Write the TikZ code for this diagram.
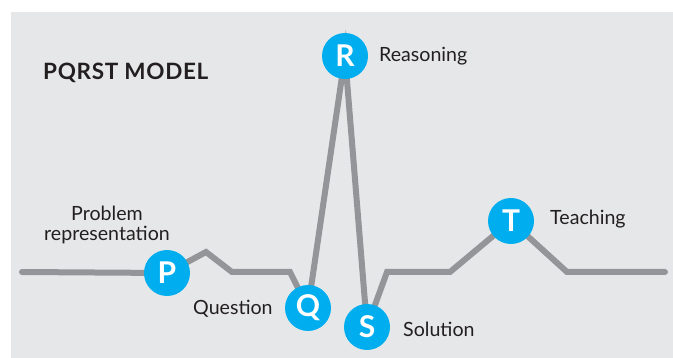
\documentclass[tikz,border=0pt]{standalone}
\usepackage{fontspec}
\setmainfont{Lato}
\definecolor{bgc}{HTML}{E6E7E8}
\definecolor{wave}{HTML}{939598}
\definecolor{dot}{HTML}{00AEEF}
\definecolor{ink}{HTML}{231F20}
\pgfdeclarelayer{bglayer}
\pgfdeclarelayer{linelayer}
\pgfsetlayers{bglayer,linelayer,main}
\tikzset{
  stage/.style={circle, fill=dot, minimum size=46pt, inner sep=0pt, text=white,
    font=\fontsize{30}{30}\selectfont\bfseries},
  lbl/.style={text=ink, font=\fontsize{19.6}{20}\selectfont, inner sep=0pt, anchor=base west},
  waveline/.style={draw=wave, line width=6pt, line cap=round, line join=miter}
}
\begin{document}
\begin{tikzpicture}[x=1pt,y=-1pt]
\useasboundingbox (0,0) rectangle (673,358);
\begin{pgfonlayer}{bglayer}
\fill[bgc] (11,12) rectangle (673,358);
\end{pgfonlayer}
% stages
\node[stage] (P) at (167,273) {P};
\node[stage] (Q) at (308,308) {Q};
\node[stage] (R) at (345,56) {R};
\node[stage] (S) at (367,327) {S};
\node[stage] (T) at (511,221) {T};
% waveform bends
\coordinate (w0) at (22,272);
\coordinate (w1) at (206,252);
\coordinate (w2) at (232,272);
\coordinate (w3) at (290,272);
\coordinate (w4) at (387,272);
\coordinate (w5) at (450,272);
\coordinate (w6) at (567,272);
\coordinate (w7) at (665,272);
\begin{pgfonlayer}{linelayer}
\draw[waveline] (w0) -- (P.center) -- (w1) -- (w2) -- (w3) -- (Q.center) -- (R.center)
  -- (S.center) -- (w4) -- (w5) -- (T.center) -- (w6) -- (w7);
\end{pgfonlayer}
% labels
\node[lbl, font=\fontsize{22.5}{23}\selectfont\bfseries\addfontfeature{LetterSpace=3}] (title) at (43,80) {PQRST MODEL};
\node[lbl, anchor=base, align=center] (lp) at (107,241) {Problem\\representation};
\node[lbl] (lq) at (193,315) {Question};
\node[lbl] (lr) at (379,62) {Reasoning};
\node[lbl] (ls) at (403,337) {Solution};
\node[lbl] (lt) at (550,225) {Teaching};
\end{tikzpicture}
\end{document}
